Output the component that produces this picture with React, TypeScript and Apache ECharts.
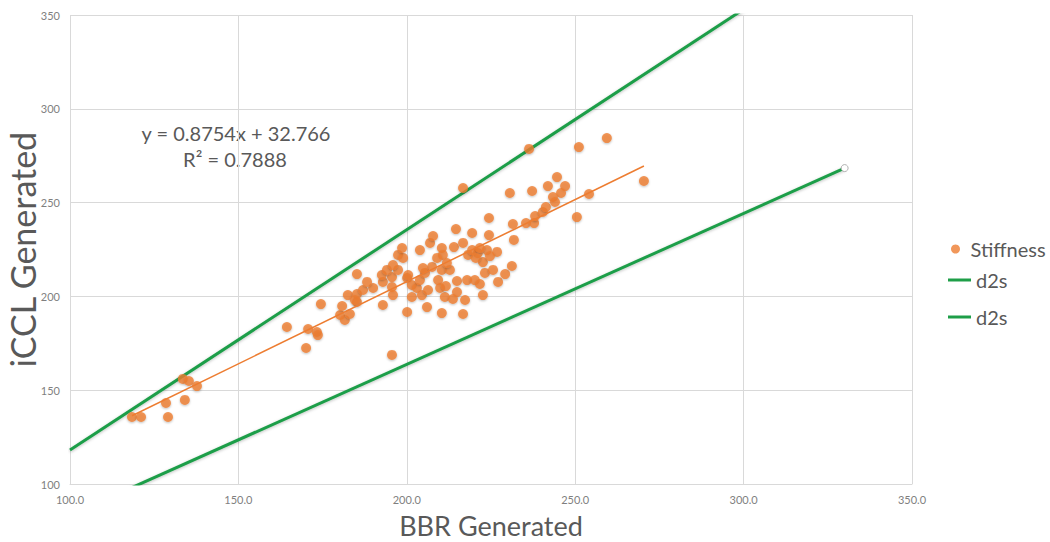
import React, { useEffect, useRef } from "react";
import * as echarts from "echarts";

// Stiffness scatter points (BBR Generated, iCCL Generated)
const bbr = [
  118.4, 121.1, 128.5, 129.1, 133.5, 135.3, 137.7, 134.1, 164.4, 170.7,
  173.3, 173.6, 170.1, 174.5, 180.2, 181.6, 183.1, 180.8, 182.5, 185.2,
  185.2, 185.2, 184.6, 187.0, 190.0, 188.2, 192.9, 195.6, 192.6, 194.1,
  197.4, 195.9, 197.4, 198.9, 198.6, 195.6, 195.9, 192.9, 195.6, 200.1,
  206.0, 210.4, 200.1, 201.5, 203.0, 201.5, 204.5, 206.3, 203.9, 205.4,
  209.3, 207.5, 204.8, 200.4, 209.9, 211.3, 203.9, 206.9, 207.8, 210.4,
  210.7, 209.0, 210.4, 212.8, 211.9, 211.6, 214.9, 217.9, 220.2, 221.7,
  223.2, 225.6, 227.1, 229.2, 231.2, 222.6, 221.1, 218.2, 223.8, 226.8,
  214.0, 216.7, 214.6, 219.4, 224.4, 224.4, 231.5, 231.8, 235.4, 237.8,
  238.1, 240.4, 241.3, 214.9, 213.7, 217.3, 222.6, 216.7, 219.4, 221.7,
  224.7, 220.5, 216.7, 230.6, 236.3, 237.2, 241.9, 244.6, 247.0, 245.8,
  243.4, 244.0, 254.1, 250.5, 251.1, 259.4, 270.4,
];
const iccl = [
  135.7, 135.7, 143.2, 135.7, 156.0, 154.9, 152.2, 144.8, 183.7, 182.6,
  181.0, 179.4, 172.5, 195.9, 190.1, 187.4, 190.6, 194.9, 200.7, 201.3,
  197.0, 211.9, 198.1, 203.4, 204.5, 207.7, 207.7, 210.3, 211.4, 214.1,
  214.1, 216.7, 222.1, 220.5, 225.8, 205.0, 200.7, 195.4, 168.8, 191.7,
  194.3, 191.1, 209.8, 206.1, 204.5, 199.7, 200.7, 203.4, 208.7, 212.5,
  208.7, 215.7, 215.1, 211.4, 204.5, 199.7, 224.7, 228.5, 232.2, 225.8,
  222.1, 220.5, 214.1, 214.1, 217.8, 205.5, 208.2, 208.7, 208.7, 206.6,
  212.5, 214.1, 207.7, 211.9, 216.2, 218.3, 223.1, 222.1, 224.7, 223.7,
  226.3, 228.5, 235.9, 233.8, 232.7, 241.8, 238.6, 230.1, 239.1, 239.1,
  242.8, 245.0, 247.6, 202.3, 198.6, 198.1, 200.7, 190.6, 224.7, 225.8,
  221.5, 220.5, 257.8, 255.1, 278.6, 256.2, 258.8, 263.6, 258.8, 255.1,
  253.0, 250.3, 254.6, 242.3, 279.6, 284.4, 261.5,
];

// Linear trendline endpoints
const trendX = [118.4, 270.4];
const trendY = [136.4, 269.5];

// d2s boundary lines
const upperX = [100, 330];
const upperY = [118.1, 388.3];
const lowerX = [100, 330];
const lowerY = [83.3, 268.4];

const xTickValues = [100, 150, 200, 250, 300, 350];
const xTickLabels = ["100.0", "150.0", "200.0", "250.0", "300.0", "350.0"];
const yTickValues = [100, 150, 200, 250, 300, 350];
const yTickLabels = ["100", "150", "200", "250", "300", "350"];

const eqLine1 = "y = 0.8754x + 32.766";
const eqLine2 = "R² = 0.7888";

const FONT = "Lato, 'Open Sans', sans-serif";
const ORANGE = "#ED7D31";
const GREEN = "#1E9E48";
const GRAY = "#595959";

export default function App() {
  const ref = useRef<HTMLDivElement>(null);

  useEffect(() => {
    if (!ref.current) return;
    const chart = echarts.init(ref.current, undefined, { renderer: "svg" });

    const scatterData = bbr.map((x, i) => [x, iccl[i]]);
    const trendData = trendX.map((x, i) => [x, trendY[i]]);
    const upperData = upperX.map((x, i) => [x, upperY[i]]);
    const lowerData = lowerX.map((x, i) => [x, lowerY[i]]);

    const legendBase = {
      orient: "vertical" as const,
      textStyle: { fontSize: 20, color: GRAY, fontFamily: FONT },
      itemGap: 10,
      selectedMode: false,
    };

    chart.setOption({
      animation: false,
      backgroundColor: "#ffffff",
      textStyle: { fontFamily: FONT },
      grid: {
        left: 70,
        right: 138,
        top: 15,
        bottom: 58,
        containLabel: false,
        outerBoundsMode: "none",
      },
      legend: [
        {
          ...legendBase,
          left: 946,
          top: 234,
          itemWidth: 20,
          itemHeight: 9,
          data: [{ name: "Stiffness", icon: "circle" }],
        },
        {
          ...legendBase,
          left: 943,
          top: 265,
          itemWidth: 23,
          itemHeight: 3,
          data: [{ name: "d2s", icon: "rect" }],
        },
        {
          ...legendBase,
          left: 943,
          top: 302,
          itemWidth: 23,
          itemHeight: 3,
          data: [{ name: "d2s", icon: "rect" }],
        },
      ],
      xAxis: {
        type: "value",
        min: 100,
        max: 350,
        interval: 50,
        name: "BBR Generated",
        nameLocation: "middle",
        nameGap: 28,
        nameMoveOverlap: false,
        nameTextStyle: { fontSize: 27, color: GRAY, fontFamily: FONT },
        axisLine: { show: true, lineStyle: { color: "#d9d9d9" } },
        axisTick: { show: false },
        axisLabel: {
          fontSize: 11,
          color: "#7f7f7f",
          margin: 10,
          formatter: (v: number) => {
            const i = xTickValues.indexOf(v);
            return i >= 0 ? xTickLabels[i] : "";
          },
        },
        splitLine: { show: true, lineStyle: { color: "#d9d9d9" } },
      },
      yAxis: {
        type: "value",
        min: 100,
        max: 350,
        interval: 50,
        name: "iCCL Generated",
        nameLocation: "middle",
        nameGap: 31,
        nameMoveOverlap: false,
        nameTextStyle: { fontSize: 34, color: GRAY, fontFamily: FONT },
        axisLine: { show: false },
        axisTick: { show: false },
        axisLabel: {
          fontSize: 11,
          color: "#7f7f7f",
          margin: 10,
          formatter: (v: number) => {
            const i = yTickValues.indexOf(v);
            return i >= 0 ? yTickLabels[i] : "";
          },
        },
        splitLine: { show: true, lineStyle: { color: "#d9d9d9" } },
      },
      graphic: [
        {
          type: "text",
          x: 236,
          y: 133,
          style: {
            text: eqLine1,
            fontSize: 20,
            fontFamily: FONT,
            fill: GRAY,
            align: "center",
            verticalAlign: "middle",
          },
        },
        {
          type: "text",
          x: 235,
          y: 159,
          style: {
            text: eqLine2,
            fontSize: 20,
            fontFamily: FONT,
            fill: GRAY,
            align: "center",
            verticalAlign: "middle",
          },
        },
      ],
      series: [
        {
          name: "d2s",
          type: "line",
          data: upperData,
          symbol: "none",
          clip: true,
          lineStyle: {
            color: GREEN,
            width: 3,
            shadowColor: "rgba(0,0,0,0.25)",
            shadowBlur: 3,
            shadowOffsetY: 1,
          },
          itemStyle: { color: GREEN },
          z: 2,
        },
        {
          name: "d2s",
          type: "line",
          data: lowerData,
          symbol: "none",
          clip: true,
          lineStyle: {
            color: GREEN,
            width: 3,
            shadowColor: "rgba(0,0,0,0.25)",
            shadowBlur: 3,
            shadowOffsetY: 1,
          },
          itemStyle: { color: GREEN },
          markPoint: {
            symbol: "circle",
            symbolSize: 7,
            label: { show: false },
            itemStyle: { color: "#ffffff", borderColor: "#b0b0b0", borderWidth: 1 },
            data: [{ coord: lowerData[lowerData.length - 1] }],
          },
          z: 2,
        },
        {
          name: "Stiffness",
          type: "scatter",
          data: scatterData,
          symbol: "circle",
          symbolSize: 10,
          itemStyle: {
            color: ORANGE,
            shadowColor: "rgba(0,0,0,0.3)",
            shadowBlur: 2,
            shadowOffsetY: 1,
          },
          z: 3,
        },
        {
          name: "trend",
          type: "line",
          data: trendData,
          symbol: "none",
          lineStyle: { color: ORANGE, width: 1.5 },
          z: 4,
        },
      ],
    });

    return () => chart.dispose();
  }, []);

  return (
    <div
      ref={ref}
      style={{ position: "fixed", left: 0, top: 0, width: 1050, height: 542 }}
    />
  );
}
